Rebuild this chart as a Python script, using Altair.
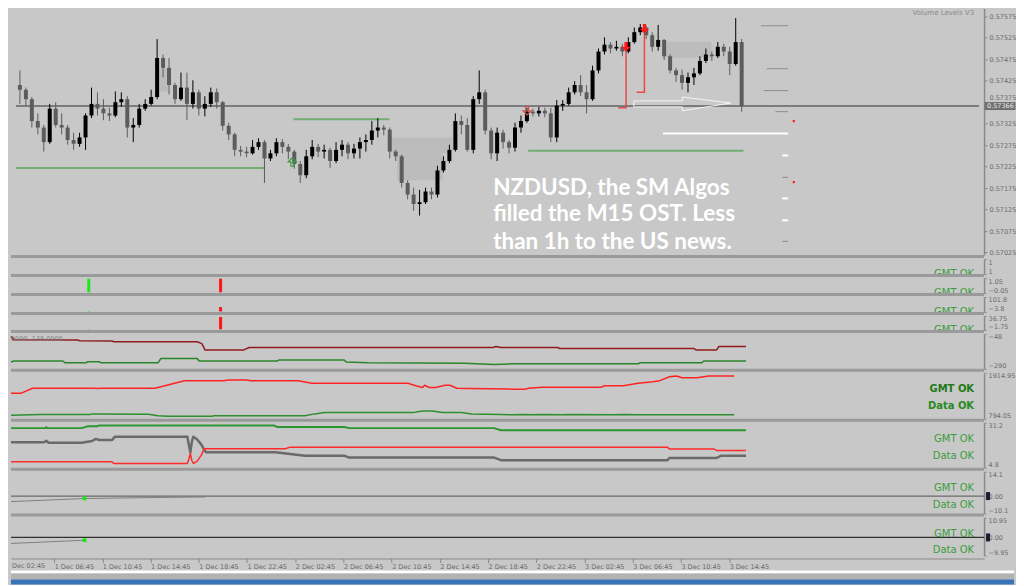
import altair as alt
import pandas as pd

# ---------------- data (time = hours since 1 Dec 00:00, prices in 1e-5 units for candles) -------------
candle_start = 3.5          # first M30 candle: 1 Dec 03:30
candle_step = 0.5
first_open = 57415
close_pts = [57404, 57382, 57331, 57316, 57282, 57360, 57322, 57316, 57287, 57278,
             57293, 57344, 57371, 57360, 57349, 57344, 57375, 57382, 57316, 57322,
             57360, 57371, 57387, 57478, 57455, 57415, 57382, 57409, 57371, 57398,
             57360, 57371, 57398, 57375, 57320, 57300, 57264, 57260, 57256, 57271,
             57282, 57244, 57256, 57282, 57271, 57260, 57231, 57205, 57249, 57271,
             57260, 57264, 57238, 57264, 57276, 57256, 57267, 57282, 57287, 57309,
             57316, 57311, 57260, 57249, 57187, 57160, 57138, 57142, 57167, 57160,
             57216, 57238, 57264, 57331, 57322, 57264, 57382, 57398, 57309, 57256,
             57304, 57282, 57269, 57316, 57331, 57353, 57349, 57355, 57349, 57293,
             57367, 57371, 57398, 57415, 57398, 57382, 57449, 57493, 57509, 57500,
             57504, 57493, 57515, 57538, 57549, 57531, 57504, 57520, 57482, 57449,
             57438, 57420, 57433, 57442, 57471, 57486, 57482, 57504, 57493, 57464,
             57515, 57366]
high_pts = [57449, 57409, 57387, 57349, 57322, 57371, 57375, 57349, 57322, 57304,
            57304, 57349, 57409, 57398, 57382, 57362, 57400, 57398, 57389, 57338,
            57371, 57382, 57404, 57522, 57486, 57478, 57420, 57444, 57444, 57426,
            57404, 57389, 57409, 57407, 57378, 57327, 57304, 57273, 57271, 57287,
            57291, 57287, 57264, 57291, 57289, 57278, 57264, 57238, 57264, 57287,
            57278, 57276, 57269, 57282, 57287, 57282, 57278, 57293, 57300, 57331,
            57338, 57322, 57316, 57264, 57253, 57193, 57176, 57171, 57176, 57176,
            57227, 57249, 57276, 57349, 57344, 57338, 57389, 57449, 57404, 57316,
            57316, 57311, 57287, 57327, 57344, 57362, 57360, 57364, 57362, 57362,
            57380, 57380, 57409, 57424, 57438, 57415, 57460, 57500, 57526, 57515,
            57518, 57511, 57526, 57549, 57557, 57553, 57538, 57555, 57522, 57486,
            57455, 57451, 57444, 57455, 57482, 57500, 57493, 57515, 57511, 57504,
            57571, 57522]
low_pts = [57371, 57367, 57316, 57300, 57260, 57278, 57316, 57300, 57276, 57264,
           57271, 57264, 57338, 57344, 57333, 57331, 57340, 57364, 57293, 57282,
           57316, 57355, 57367, 57382, 57433, 57393, 57371, 57378, 57333, 57360,
           57344, 57342, 57364, 57360, 57309, 57287, 57249, 57249, 57247, 57253,
           57264, 57187, 57238, 57249, 57256, 57242, 57220, 57187, 57198, 57242,
           57247, 57244, 57222, 57233, 57249, 57242, 57244, 57244, 57260, 57276,
           57293, 57298, 57244, 57238, 57176, 57149, 57122, 57111, 57138, 57149,
           57153, 57211, 57233, 57260, 57300, 57260, 57256, 57371, 57300, 57242,
           57238, 57267, 57256, 57260, 57304, 57327, 57342, 57342, 57340, 57282,
           57282, 57355, 57367, 57393, 57389, 57349, 57378, 57442, 57486, 57489,
           57495, 57482, 57489, 57511, 57531, 57522, 57493, 57495, 57473, 57442,
           57422, 57404, 57398, 57415, 57438, 57466, 57471, 57478, 57482, 57438,
           57460, 57353]

price_now = 0.57366
price_ticks = [0.57575, 0.57525, 0.57475, 0.57425, 0.57375, 0.57325,
               0.57275, 0.57225, 0.57175, 0.57125, 0.57075, 0.57025]
time_ticks = [6.75, 10.75, 14.75, 18.75, 22.75, 26.75, 30.75, 34.75,
              38.75, 42.75, 46.75, 50.75, 54.75, 58.75, 62.75]

# volume zones (t0, t1, p_top, p_bottom)
zone_t0 = [15.12, 34.63, 35.12, 57.40]
zone_t1 = [15.93, 39.76, 38.94, 61.46]
zone_hi = [0.57453, 0.57293, 0.57256, 0.57515]
zone_lo = [0.57400, 0.57256, 0.57193, 0.57478]

# green support lines
green_t0 = [3.17, 26.42, 46.10]
green_t1 = [24.06, 34.47, 64.15]
green_p = [0.57222, 0.57335, 0.57262]

# white level line
white_t0 = [57.40]
white_t1 = [67.89]
white_p = [0.57302]

# volume ladder to the right
ladder_gray_t0 = [65.61, 66.10, 65.85, 66.83, 67.40, 67.40]
ladder_gray_p = [0.57553, 0.57453, 0.57402, 0.57353, 0.57200, 0.57051]
ladder_white_t0 = [67.40, 67.40, 67.40]
ladder_white_p = [0.57251, 0.57151, 0.57100]
ladder_t1 = 67.89
red_dot_t = [68.37, 68.37]
red_dot_p = [0.57331, 0.57189]

# red signal steps and arrows
step1 = [[54.31, 0.57500], [54.31, 0.57362], [53.66, 0.57362]]
step2 = [[55.85, 0.57544], [55.85, 0.57398], [55.20, 0.57398]]
sell_arrow_t = [54.31, 55.85]
sell_arrow_p = [0.57504, 0.57546]
green_hollow_t, green_hollow_p = [26.34], [0.57236]
red_hollow_t, red_hollow_p = [46.02], [0.57355]

# white hollow arrow (target)
target_arrow = [[54.96, 0.57378], [59.02, 0.57378], [59.02, 0.57387], [63.09, 0.57373],
                [59.02, 0.57355], [59.02, 0.57364], [54.96, 0.57364], [54.96, 0.57378]]

note_lines = ["NZDUSD, the SM Algos", "filled the M15 OST. Less", "than 1h to the US news."]
note_t = 43.17
note_p = [0.57160, 0.57098, 0.57034]

# sub-window indicators
sig_green_t, sig_red_t = 9.27, 20.32
p2_green, p2_red = 1.0, 1.0
p3_green, p3_red = 3.0, 31.0
p4_green, p4_red = 1.0, 34.0

p5_red = [[3.17, -66], [3.41, -88], [8.70, -90], [8.86, -95], [11.54, -97], [11.71, -102],
          [18.62, -102], [19.0, -115], [19.19, -145], [19.27, -160], [22.44, -160], [22.93, -142],
          [43.17, -142], [43.41, -135], [43.82, -142], [48.53, -142], [48.7, -149], [59.84, -149],
          [60.0, -159], [61.71, -159], [61.9, -135], [64.15, -135]]
p5_green = [[3.17, -243], [3.41, -236], [7.48, -236], [7.64, -248], [9.43, -248], [9.51, -241],
            [10.49, -241], [10.65, -248], [15.37, -248], [15.61, -218], [18.62, -218], [18.78, -236],
            [25.28, -236], [25.37, -229], [30.81, -229], [31.0, -243], [32.84, -248], [40.8, -252],
            [43.25, -259], [44.8, -255], [55.2, -255], [55.37, -248], [60.49, -248], [60.65, -236],
            [64.15, -236]]
p6_red = [[3.17, 1414], [3.98, 1414], [4.96, 1540], [10.08, 1540], [10.32, 1533], [10.65, 1540],
          [15.12, 1540], [17.56, 1724], [20.81, 1724], [21.22, 1741], [22.68, 1741], [23.09, 1724],
          [26.99, 1724], [28.13, 1660], [36.10, 1660], [36.75, 1598], [37.32, 1557], [37.48, 1612],
          [37.89, 1557], [38.37, 1557], [39.19, 1612], [39.59, 1612], [40.16, 1540], [41.14, 1533],
          [44.80, 1517], [45.85, 1517], [46.10, 1540], [47.24, 1564], [52.11, 1564], [52.44, 1598],
          [53.98, 1598], [55.20, 1660], [56.42, 1700], [56.99, 1724], [57.80, 1820], [58.37, 1836],
          [58.86, 1796], [60.08, 1796], [61.06, 1836], [63.17, 1836]]
p6_green = [[3.17, 882], [5.6, 897], [9.67, 897], [10.0, 913], [14.55, 906], [15.37, 870],
            [16.18, 858], [19.84, 858], [20.0, 866], [27.56, 866], [28.37, 913], [29.19, 944],
            [36.50, 944], [37.32, 985], [38.13, 985], [38.94, 949], [40.57, 949], [41.38, 913],
            [43.82, 897], [44.8, 889], [45.7, 897], [46.3, 889], [47.3, 897], [48.8, 889],
            [49.5, 897], [53.0, 889], [54.2, 897], [55.0, 889], [63.17, 889]]
p7_green = [[3.17, 28.04], [6.02, 28.04], [6.10, 28.62], [6.18, 28.04], [9.02, 28.04], [9.51, 29.08],
            [10.32, 29.08], [10.49, 29.65], [24.96, 29.65], [25.28, 28.73], [30.81, 28.73],
            [31.22, 28.04], [43.25, 28.04], [43.82, 26.78], [64.15, 26.78]]
p7_gray = [[3.17, 19.72], [5.9, 19.72], [6.1, 20.6], [6.3, 19.43], [9.02, 19.43], [9.9, 20.47],
           [10.2, 21.7], [10.5, 21.05], [11.54, 21.05], [11.8, 22.99], [17.80, 22.99], [17.93, 18.0],
           [18.05, 13.8], [18.17, 20.0], [18.30, 22.99], [18.6, 21.5], [18.95, 18.5], [19.19, 15.5],
           [19.35, 13.81], [25.12, 13.81], [26.34, 12.83], [27.56, 11.86], [30.81, 11.86],
           [31.22, 10.71], [43.25, 10.71], [43.82, 9.22], [57.64, 9.22], [57.80, 10.5],
           [61.71, 10.5], [62.11, 11.86], [64.15, 11.86]]
p7_red = [[3.17, 8.24], [11.54, 8.24], [11.71, 7.26], [17.80, 7.26], [17.93, 10.0], [18.05, 13.2],
          [18.17, 9.0], [18.30, 7.26], [18.6, 8.5], [18.95, 12.0], [19.19, 15.87], [25.93, 15.87],
          [26.34, 16.85], [57.64, 16.85], [57.80, 15.7], [61.5, 15.7], [61.71, 14.96], [64.15, 14.96]]
p8_gray = [[3.17, -3.2], [9.27, -1.4], [15.4, -0.8], [19.27, -0.5]]
p8_dot = [9.27, -1.4]
p9_gray = [[3.17, -3.32], [9.27, -1.54]]
p9_dot = [9.27, -1.54]

# ---------------- styling helpers ----------------
W = 975
X_DOM = [3.17, 83.9]
FONT_AX = "DejaVu Sans"
AX_COL = "#6A6A6A"
LINE_COL = "#8A8A8A"
SEP = "#9A9A9A"
BG = "#C8C8C8"
one = pd.DataFrame({"k": [0]})
xscale = alt.Scale(domain=X_DOM, nice=False, zero=False)


def X(field="t", axis=None):
    return alt.X(f"{field}:Q", scale=xscale, axis=axis)


def make_y(dom, H, axis):
    sc = alt.Scale(domain=dom, range=[H - 3, 0], nice=False, zero=False)

    def Y(field):
        return alt.Y(f"{field}:Q", scale=sc, axis=axis)
    return Y


def sub_axis(values, expr):
    return alt.Axis(orient="right", values=values, labelExpr=expr, title=None, grid=False,
                    labelFont=FONT_AX, labelFontSize=6.5, labelColor=AX_COL, tickSize=2,
                    tickColor=LINE_COL, domainColor=LINE_COL, domainWidth=1.5,
                    labelOverlap=False, labelFlush=True, labelPadding=2)


def separator(H):
    return alt.Chart(one).mark_rule(color=SEP, strokeWidth=3).encode(
        x=alt.value(0), x2=alt.value(W), y=alt.value(H - 1.5))


def label(text, y, color="#3A9E3A", weight="normal", clip=False, baseline="middle"):
    return alt.Chart(one).mark_text(align="right", baseline=baseline, font="DejaVu Sans",
                                    fontSize=10, color=color, fontWeight=weight, clip=clip).encode(
        x=alt.value(W - 10), y=alt.value(y), text=alt.value(text))


def line_layer(pts, color, width, Y, Xf=X):
    df = pd.DataFrame({"t": [p[0] for p in pts], "v": [p[1] for p in pts],
                       "i": list(range(len(pts)))})
    return alt.Chart(df).mark_line(color=color, strokeWidth=width, strokeJoin="round").encode(
        x=Xf(), y=Y("v"), order="i:Q")


# ---------------- main price window ----------------
MAIN_H = 250
main_axis = alt.Axis(orient="right", values=price_ticks, format=".5f", title=None, grid=False,
                     labelFont=FONT_AX, labelFontSize=6.5, labelColor=AX_COL, tickSize=3,
                     tickColor=LINE_COL, domainColor=LINE_COL, domainWidth=1.5,
                     labelOverlap=False, labelPadding=2,
                     labelOffset={"condition": {"test": f"abs(datum.value - {price_ticks[4]}) < 1e-7",
                                                "value": -5}, "value": 0})
YM = make_y([0.57019, 0.57593], MAIN_H, main_axis)

opens = [first_open] + close_pts[:-1]
cdf = pd.DataFrame({
    "t": [candle_start + candle_step * i for i in range(len(close_pts))],
    "o": [v / 1e5 for v in opens],
    "h": [v / 1e5 for v in high_pts],
    "l": [v / 1e5 for v in low_pts],
    "c": [v / 1e5 for v in close_pts],
    "dir": ["up" if c >= o else "down" for o, c in zip(opens, close_pts)],
})
cand_color = alt.Color("dir:N", scale=alt.Scale(domain=["up", "down"], range=["#000000", "#5C5C5C"]),
                       legend=None)

zones = alt.Chart(pd.DataFrame({"t0": zone_t0, "t1": zone_t1, "hi": zone_hi, "lo": zone_lo})).mark_rect(
    color="#BCBCBC").encode(x=X("t0"), x2="t1:Q", y=YM("hi"), y2="lo:Q")
now_line = alt.Chart(pd.DataFrame({"t0": [X_DOM[0]], "t1": [X_DOM[1]], "p": [price_now]})).mark_rule(
    color="#7C7C7C", strokeWidth=2).encode(x=X("t0"), x2="t1:Q", y=YM("p"))
greens = alt.Chart(pd.DataFrame({"t0": green_t0, "t1": green_t1, "p": green_p})).mark_rule(
    color="#72AE72", strokeWidth=2).encode(x=X("t0"), x2="t1:Q", y=YM("p"))
white_lvl = alt.Chart(pd.DataFrame({"t0": white_t0, "t1": white_t1, "p": white_p})).mark_rule(
    color="#FFFFFF", strokeWidth=2).encode(x=X("t0"), x2="t1:Q", y=YM("p"))
lad_gray = alt.Chart(pd.DataFrame({"t0": ladder_gray_t0, "t1": [ladder_t1] * len(ladder_gray_t0),
                                   "p": ladder_gray_p})).mark_rule(color="#8E8E8E", strokeWidth=1).encode(
    x=X("t0"), x2="t1:Q", y=YM("p"))
lad_white = alt.Chart(pd.DataFrame({"t0": ladder_white_t0, "t1": [ladder_t1] * len(ladder_white_t0),
                                    "p": ladder_white_p})).mark_rule(color="#FFFFFF", strokeWidth=2).encode(
    x=X("t0"), x2="t1:Q", y=YM("p"))
red_dots = alt.Chart(pd.DataFrame({"t": red_dot_t, "p": red_dot_p})).mark_square(
    color="#FF2020", size=5, opacity=1).encode(x=X(), y=YM("p"))


def path_layer(pts, color, width, grp):
    df = pd.DataFrame({"t": [p[0] for p in pts], "p": [p[1] for p in pts], "i": list(range(len(pts))),
                       "g": [grp] * len(pts)})
    return alt.Chart(df).mark_line(color=color, strokeWidth=width).encode(
        x=X(), y=YM("p"), order="i:Q", detail="g:N")


steps = path_layer(step1, "#E84848", 1.5, "a") + path_layer(step2, "#E84848", 1.5, "b")
target = path_layer(target_arrow, "#F4F4F4", 1, "c")

wicks = alt.Chart(cdf).mark_rule(strokeWidth=1).encode(x=X(), y=YM("l"), y2="h:Q", color=cand_color)
bodies = alt.Chart(cdf).mark_bar(width=4).encode(x=X(), y=YM("o"), y2="c:Q", color=cand_color)

DOWN = "M-0.35,-1 L0.35,-1 L0.35,0 L1,0 L0,1 L-1,0 L-0.35,0 Z"
UP = "M-0.35,1 L0.35,1 L0.35,0 L1,0 L0,-1 L-1,0 L-0.35,0 Z"
sell_arrows = alt.Chart(pd.DataFrame({"t": sell_arrow_t, "p": sell_arrow_p})).mark_point(
    shape=DOWN, filled=True, color="#FF1A1A", size=90, opacity=1).encode(x=X(), y=YM("p"))
g_hollow = alt.Chart(pd.DataFrame({"t": green_hollow_t, "p": green_hollow_p})).mark_point(
    shape=UP, filled=False, color="#3C9C3C", size=70, strokeWidth=1.2, opacity=1).encode(x=X(), y=YM("p"))
r_hollow = alt.Chart(pd.DataFrame({"t": red_hollow_t, "p": red_hollow_p})).mark_point(
    shape=DOWN, filled=False, color="#D85050", size=70, strokeWidth=1.2, opacity=1).encode(x=X(), y=YM("p"))

note = alt.Chart(pd.DataFrame({"t": [note_t] * 3, "p": note_p, "txt": note_lines})).mark_text(
    align="left", baseline="alphabetic", font="Lato", fontWeight="bold", fontSize=22.5,
    color="#FFFFFF").encode(x=X(), y=YM("p"), text="txt:N")

vol_title = alt.Chart(one).mark_text(align="right", baseline="top", font=FONT_AX, fontSize=7,
                                     color="#8A8A8A").encode(
    x=alt.value(W - 10), y=alt.value(0), text=alt.value("Volume Levels V3"))

tag_df = pd.DataFrame({"p": [price_now], "txt": [f"{price_now:.5f}"]})
tag_box = alt.Chart(tag_df).mark_tick(orient="horizontal", size=31, thickness=8, color="#707070",
                                      opacity=1).encode(x=alt.value(W + 16), y=YM("p"))
tag_txt = alt.Chart(tag_df).mark_text(align="left", baseline="middle", font=FONT_AX, fontSize=6.5,
                                      color="#E8E8E8").encode(x=alt.value(W + 3), y=YM("p"), text="txt:N")

main = alt.layer(zones, now_line, greens, white_lvl, lad_gray, lad_white, steps, target,
                 wicks, bodies, sell_arrows, g_hollow, r_hollow, red_dots, note, vol_title,
                 tag_box, tag_txt, separator(MAIN_H)).properties(width=W, height=MAIN_H)


# ---------------- sub windows ----------------
def bars_panel(H, dom, expr, g_val, r_val, draw=True):
    Y = make_y(dom, H, sub_axis(dom, expr))
    layers = []
    if draw:
        bdf_g = pd.DataFrame({"t": [sig_green_t], "v": [g_val], "z": [0.0]})
        bdf_r = pd.DataFrame({"t": [sig_red_t], "v": [r_val], "z": [0.0]})
        layers.append(alt.Chart(bdf_g).mark_bar(width=3, color="#1EE81E").encode(x=X(), y=Y("v"), y2="z:Q"))
        layers.append(alt.Chart(bdf_r).mark_bar(width=3, color="#FF1414").encode(x=X(), y=Y("v"), y2="z:Q"))
    else:
        layers.append(alt.Chart(pd.DataFrame({"t": [X_DOM[0]], "v": [dom[0]]})).mark_point(
            opacity=0).encode(x=X(), y=Y("v")))
    layers.append(label("GMT OK", H, clip=True, baseline="alphabetic"))
    layers.append(separator(H))
    return alt.layer(*layers).properties(width=W, height=H)


p1 = bars_panel(18, [0, 1], "'1'", 0, 0, draw=False)
p2 = bars_panel(18, [-0.05, 1.05], "format(datum.value, '.2f')", p2_green, p2_red)
p3 = bars_panel(18, [-3.8, 101.8], "format(datum.value, '.1f')", p3_green, p3_red)
p4 = bars_panel(17, [-1.75, 36.75], "format(datum.value, '.2f')", p4_green, p4_red)

H5 = 38
Y5 = make_y([-290, -48], H5, sub_axis([-290, -48], "format(datum.value, 'd')"))
p5 = alt.layer(
    line_layer(p5_red, "#8E1C1C", 1.5, Y5),
    line_layer(p5_green, "#2A852A", 1.5, Y5),
    alt.Chart(one).mark_text(align="left", baseline="top", font=FONT_AX, fontSize=6.5,
                             color="#7A7A7A").encode(x=alt.value(0), y=alt.value(2),
                                                    text=alt.value("0000 -138.0000")),
    separator(H5),
).properties(width=W, height=H5)

H6 = 49
Y6 = make_y([794.05, 1914.95], H6, sub_axis([794.05, 1914.95], "format(datum.value, '.2f')"))
p6 = alt.layer(
    line_layer(p6_red, "#FF2424", 1.5, Y6),
    line_layer(p6_green, "#2E8E2E", 1.5, Y6),
    label("GMT OK", 16, color="#217A17", weight="bold"),
    label("Data OK", 33, color="#2A8A22", weight="bold"),
    separator(H6),
).properties(width=W, height=H6)

H7 = 48
Y7 = make_y([4.8, 31.2], H7, sub_axis([4.8, 31.2], "format(datum.value, '.1f')"))
p7 = alt.layer(
    line_layer(p7_green, "#2E962E", 2, Y7),
    line_layer(p7_gray, "#6A6A6A", 2.5, Y7),
    line_layer(p7_red, "#FF2A2A", 1.5, Y7),
    label("GMT OK", 16),
    label("Data OK", 33),
    separator(H7),
).properties(width=W, height=H7)


def osc_panel(H, dom, vals, expr, pts, dot, zero_col, xaxis=None, last=False):
    Xf = (lambda f="t": X(f, axis=xaxis))
    Y = make_y(dom, H, sub_axis(vals, expr))
    zdf = pd.DataFrame({"t0": [X_DOM[0]], "t1": [X_DOM[1]], "v": [0.0]})
    layers = [
        alt.Chart(zdf).mark_rule(color=zero_col, strokeWidth=1.2).encode(x=Xf("t0"), x2="t1:Q", y=Y("v")),
        line_layer(pts, "#7E7E7E", 1, Y, Xf),
        alt.Chart(pd.DataFrame({"t": [dot[0]], "v": [dot[1]]})).mark_square(
            color="#19E619", size=14, opacity=1).encode(x=Xf(), y=Y("v")),
        alt.Chart(pd.DataFrame({"v": [0.0]})).mark_tick(orient="horizontal", size=4, thickness=8,
                                                         color="#1C1C30", opacity=1).encode(
            x=alt.value(W + 4), y=Y("v")),
        label("GMT OK", 16),
        label("Data OK", 33),
    ]
    if last:
        layers.append(alt.Chart(one).mark_text(align="left", baseline="top", font=FONT_AX, fontSize=6.5,
                                               color=AX_COL).encode(
            x=alt.value(1), y=alt.value(H + 5), text=alt.value("Dec 02:45")))
    else:
        layers.append(separator(H))
    return alt.layer(*layers).properties(width=W, height=H)


x_axis = alt.Axis(values=time_ticks, orient="bottom", title=None, grid=False,
                  labelExpr="(floor(datum.value / 24) + 1) + ' Dec ' + format(floor(datum.value % 24), '02d')"
                            " + ':' + format(round((datum.value % 1) * 60), '02d')",
                  labelAlign="left", labelBaseline="top", labelPadding=1, tickSize=4,
                  tickColor=LINE_COL, domainColor=LINE_COL, labelFont=FONT_AX, labelFontSize=6.5,
                  labelColor=AX_COL, labelOverlap=False, labelFlush=False)

p8 = osc_panel(45, [-10.1, 14.1], [-10.1, 0, 14.1],
               "datum.value == 0 ? '0.00' : format(datum.value, '.1f')", p8_gray, p8_dot, "#6A6A6A")
p9 = osc_panel(41, [-9.95, 10.95], [-9.95, 0, 10.95], "format(datum.value, '.2f')",
               p9_gray, p9_dot, "#303030", xaxis=x_axis, last=True)

# ---------------- taskbar strip ----------------
TB_H = 14
taskbar = alt.layer(
    alt.Chart(one).mark_rect(color="#FFFFFF").encode(x=alt.value(0), x2=alt.value(W + 30),
                                                      y=alt.value(0), y2=alt.value(3)),
    alt.Chart(one).mark_rect(color="#B2B2B2").encode(x=alt.value(0), x2=alt.value(W + 30),
                                                      y=alt.value(3), y2=alt.value(9)),
    alt.Chart(one).mark_rect(color="#3A74B8").encode(x=alt.value(0), x2=alt.value(W + 30),
                                                      y=alt.value(9), y2=alt.value(TB_H)),
).properties(width=W, height=TB_H)

chart = alt.vconcat(main, p1, p2, p3, p4, p5, p6, p7, p8, p9, taskbar, spacing=0).resolve_scale(
    x="independent", y="independent", color="independent"
).properties(background=BG, padding=0).configure_view(stroke=None)

chart.save("out.html", embed_options={"renderer": "svg", "actions": False})
